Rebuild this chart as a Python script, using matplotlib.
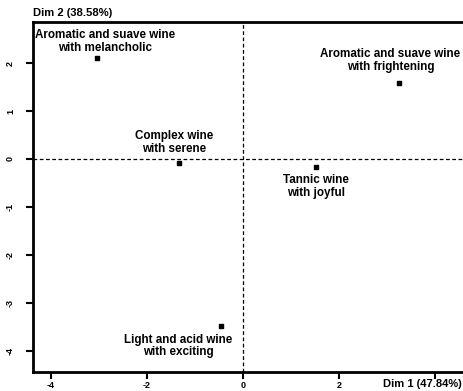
import matplotlib
matplotlib.use("Agg")
import matplotlib.pyplot as plt

plt.rcParams['font.family'] = ['Liberation Sans', 'DejaVu Sans']

# Factor map coordinates of the five wine profiles
labels = [
    "Aromatic and suave wine\nwith melancholic",
    "Aromatic and suave wine\nwith frightening",
    "Complex wine\nwith serene",
    "Tannic wine\nwith joyful",
    "Light and acid wine\nwith exciting",
]
dim1 = [-3.04, 3.24, -1.33, 1.52, -0.45]
dim2 = [2.11, 1.59, -0.09, -0.16, -3.48]

xticks = [-4, -2, 0, 2, 4]
xticklabels = ["-4", "-2", "0", "2", ""]  # the axis title sits over the last tick
yticks = [-4, -3, -2, -1, 0, 1, 2]
xlabel = "Dim 1 (47.84%)"
ylabel = "Dim 2 (38.58%)"

# label offsets (points) relative to each marker
offsets = [(5.8, 11.8), (-5.8, 15.8), (-3.6, 14.8), (0, -14.4), (-31, -14.4)]

W, H, DPI = 464, 391, 100
fig = plt.figure(figsize=(W / DPI, H / DPI), dpi=DPI)

x_left, x_right = -4.375, 4.8
y_bot, y_top = -4.4375, 2.854
ppu = 48.0
ax_left = 33 / W
ax_bottom = 19 / H
ax_w = (x_right - x_left) * ppu / W
ax_h = (y_top - y_bot) * ppu / H
ax = fig.add_axes([ax_left, ax_bottom, ax_w, ax_h])
ax.set_xlim(x_left, x_right)
ax.set_ylim(y_bot, y_top)

for s in ax.spines.values():
    s.set_linewidth(2)
    s.set_color("black")

ax.axhline(0, color="black", lw=0.9, ls=(0, (3, 2)))
ax.axvline(0, color="black", lw=0.9, ls=(0, (3, 2)))

ax.scatter(dim1, dim2, s=5, marker="s", color="black", zorder=3)

for lab, x, y, (dx, dy) in zip(labels, dim1, dim2, offsets):
    ax.annotate(lab, (x, y), xytext=(dx, dy), textcoords="offset points",
                ha="center", va="center", fontsize=8.4, fontweight="bold",
                linespacing=1.1)

ax.set_xticks(xticks)
ax.set_yticks(yticks)
ax.set_xticklabels(xticklabels, fontsize=6.5, fontweight="bold")
ax.set_yticklabels([str(v) for v in yticks], fontsize=6.5, fontweight="bold",
                   rotation=90, va="center")
ax.tick_params(axis="x", direction="out", length=5, width=1.5, pad=1.5)
ax.tick_params(axis="y", direction="out", length=5, width=1.5, pad=8)

fig.text(33 / W, 1 - 13 / H, ylabel, ha="left", va="center",
         fontsize=8.1, fontweight="bold")
fig.text(462 / W, 1 - 384 / H, xlabel, ha="right", va="center",
         fontsize=8.0, fontweight="bold")

fig.savefig("out.png", dpi=DPI)
